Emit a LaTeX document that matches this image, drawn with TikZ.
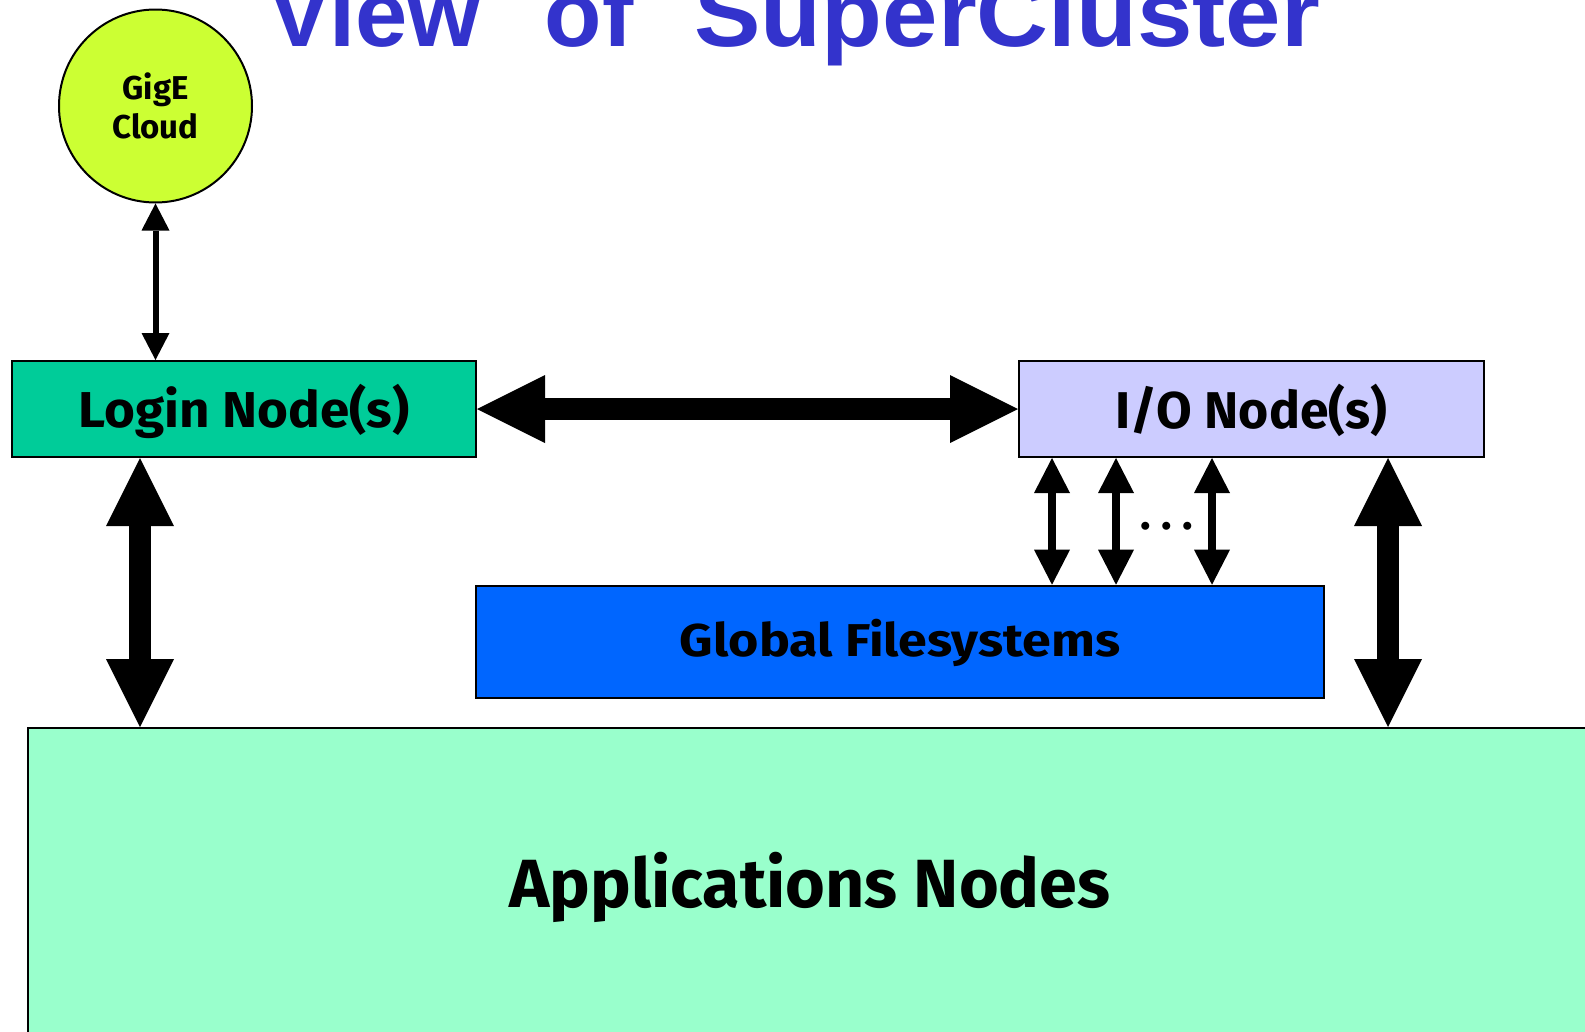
\documentclass[tikz,border=0pt]{standalone}
\usepackage{fontspec}
\setmainfont{Fira Sans}
\newfontfamily\titlefont{Liberation Sans}
\usetikzlibrary{arrows.meta}

\definecolor{titleblue}{HTML}{3333CC}
\definecolor{gigefill}{HTML}{CCFF33}
\definecolor{loginfill}{HTML}{00CC99}
\definecolor{iofill}{HTML}{CCCCFF}
\definecolor{fsfill}{HTML}{0066FF}
\definecolor{appfill}{HTML}{99FFCC}

\tikzset{
  box/.style={draw=black, line width=2pt, inner sep=0pt, text depth=0pt},
  bigarrow/.style={line width=22pt,
    {Triangle[length=68pt,width=68pt,line width=0pt]}-{Triangle[length=68pt,width=68pt,line width=0pt]}},
  midarrow/.style={line width=8pt,
    {Triangle[length=35pt,width=36pt,line width=0pt]}-{Triangle[length=35pt,width=36pt,line width=0pt]}},
  thinarrow/.style={line width=6pt,
    {Triangle[length=27pt,width=28pt,line width=0pt]}-{Triangle[length=27pt,width=28pt,line width=0pt]}},
}

\begin{document}
\begin{tikzpicture}[x=1pt,y=-1pt]
\useasboundingbox (0,0) rectangle (1585,1031);
\clip (0,0) rectangle (1585,1031);
\fill[white] (0,0) rectangle (1585,1031);

% title (partly above the top edge)
\node[anchor=base west, inner sep=0pt, text=titleblue,
      font=\titlefont\bfseries\fontsize{94}{94}\selectfont] (title) at (268,46.7)
  {View\hspace{64pt}of\hspace{61pt}\scalebox{1.06}[1]{SuperCluster}};

% boxes
\node[draw=black, line width=2pt, inner sep=0pt, circle, fill=gigefill, minimum size=193pt, align=center,
      font=\bfseries\fontsize{33}{39.4}\selectfont] (gige) at (155.5,106) {GigE\\Cloud};
\node[box, fill=loginfill, minimum width=464pt, minimum height=96pt, text height=36.6pt,
      font=\bfseries\fontsize{50.4}{50}\selectfont] (login) at (244,409) {\scalebox{1.05}[1]{Login Node(s)}};
\node[box, fill=iofill, minimum width=465pt, minimum height=96pt, text height=38.6pt,
      font=\bfseries\fontsize{51.7}{50}\selectfont] (io) at (1251.5,409) {I/O Node(s)};
\node[box, fill=fsfill, minimum width=848pt, minimum height=112pt, text height=30pt,
      font=\bfseries\fontsize{46}{46}\selectfont] (fs) at (900,641.7) {\scalebox{1.13}[1]{Global Filesystems}};
\node[box, fill=appfill, minimum width=1564pt, minimum height=312pt, text height=46pt,
      font=\bfseries\fontsize{68.2}{68}\selectfont] (app) at (810,884) {Applications Nodes};

% columns of the vertical links
\coordinate (xlogin) at (140,0);
\coordinate (xio) at (1388,0);
\coordinate (xa) at (1052,0);
\coordinate (xb) at (1116,0);
\coordinate (xc) at (1212,0);

% connectors
\draw[thinarrow] (gige.south) -- (login.north -| gige.south);
\draw[bigarrow] (login.east) -- (io.west);
\draw[bigarrow] (login.south -| xlogin) -- (app.north -| xlogin);
\draw[bigarrow] (io.south -| xio) -- (app.north -| xio);
\draw[midarrow] (io.south -| xa) -- (fs.north -| xa);
\draw[midarrow] (io.south -| xb) -- (fs.north -| xb);
\draw[midarrow] (io.south -| xc) -- (fs.north -| xc);

\node[anchor=base, inner sep=0pt, font=\bfseries\fontsize{44}{44}\selectfont] (dots) at (1167,529.5)
  {\makebox[21pt]{.}\makebox[21pt]{.}\makebox[21pt]{.}};
\end{tikzpicture}
\end{document}
